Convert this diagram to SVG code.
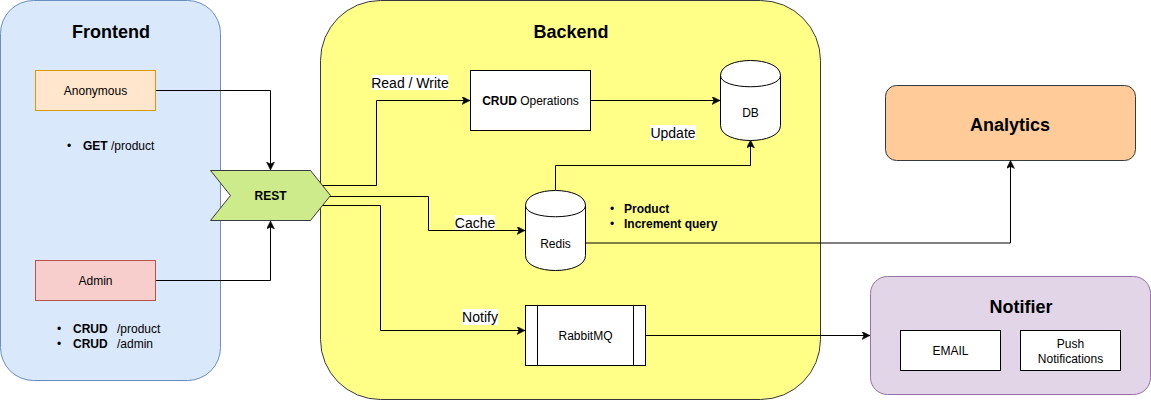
<svg xmlns="http://www.w3.org/2000/svg" width="1151" height="401" viewBox="0 0 1151 401">
<style>
text{font-family:"Liberation Sans",Arial,Helvetica,sans-serif;fill:#000}
.n{font-size:12px;text-anchor:middle}
.t{font-size:18px;font-weight:bold;text-anchor:middle}
.b{font-weight:bold}
.l{font-size:14px;text-anchor:middle}
.s{font-size:12px}
.e{fill:none;stroke:#000;stroke-width:1;marker-end:url(#arr)}
.box{fill:#fff;stroke:#000;stroke-width:1}
.lb{fill:#fff}
</style>
<defs>
<marker id="arr" markerUnits="userSpaceOnUse" markerWidth="10" markerHeight="10" refX="8" refY="4" orient="auto">
<path d="M0,0 L8,4 L0,8 L2,4 Z" fill="#000" stroke="#000" stroke-width="0.5"/>
</marker>
</defs>
<rect width="1151" height="401" fill="#fff"/>

<g id="frontend">
<rect x="0.5" y="0.5" width="220" height="380" rx="33" ry="33" fill="#dae8fc" stroke="#6c8ebf"/>
<text class="t" x="111" y="38">Frontend</text>
<text class="s" x="67" y="150">•</text>
<text class="s" x="83" y="150"><tspan class="b">GET</tspan> /product</text>
<text class="s" x="57" y="333">•</text>
<text class="s" x="73" y="333"><tspan class="b">CRUD</tspan><tspan x="117">/product</tspan></text>
<text class="s" x="57" y="348">•</text>
<text class="s" x="73" y="348"><tspan class="b">CRUD</tspan><tspan x="117">/admin</tspan></text>
</g>

<g id="backend">
<rect x="320.5" y="0.5" width="500" height="399" rx="60" ry="60" fill="#ffff88" stroke="#36393d"/>
<text class="t" x="571" y="38">Backend</text>
</g>

<g id="analytics">
<rect x="885.5" y="85.5" width="250" height="75" rx="11" ry="11" fill="#ffcc99" stroke="#36393d"/>
<text class="t" x="1010" y="131">Analytics</text>
</g>

<g id="notifier">
<rect x="870.5" y="276.5" width="280" height="118" rx="17" ry="17" fill="#e1d5e7" stroke="#9673a6"/>
<text class="t" x="1021" y="313">Notifier</text>
</g>

<g id="connectors">
<path class="e" d="M155.5,90.5 H270.5 V170"/>
<path class="e" d="M155.5,280.5 H270.5 V221"/>
<path class="e" d="M318,185.5 H376.5 V100.5 H470"/>
<path class="e" d="M325,196.5 H428.5 V230.5 H525"/>
<path class="e" d="M318,205.5 H380.5 V330.5 H525"/>
<path class="e" d="M590.5,100.5 H720"/>
<path class="e" d="M555.5,190 V165.5 H750.5 V140"/>
<path class="e" d="M585.5,243 H1010.5 V160.5"/>
<path class="e" d="M645.5,335.5 H870"/>
<rect class="lb" x="372" y="75" width="76" height="15"/>
<text class="l" x="410" y="87.5">Read / Write</text>
<rect class="lb" x="455" y="215" width="40" height="15"/>
<text class="l" x="475" y="227.5">Cache</text>
<rect class="lb" x="650" y="125" width="46" height="15"/>
<text class="l" x="673" y="137.5">Update</text>
<rect class="lb" x="462" y="309" width="36" height="16"/>
<text class="l" x="480" y="322">Notify</text>
</g>

<g id="anonymous">
<rect x="35.5" y="70.5" width="120" height="40" fill="#ffe6cc" stroke="#d79b00"/>
<text class="n" x="95.5" y="95">Anonymous</text>
</g>

<g id="admin">
<rect x="35.5" y="260.5" width="120" height="40" fill="#f8cecc" stroke="#b85450"/>
<text class="n" x="95.5" y="285">Admin</text>
</g>

<g id="rest">
<path d="M210.5,170.5 H310.5 L330.5,195.5 L310.5,220.5 H210.5 L230.5,195.5 Z" fill="#cdeb8b" stroke="#36393d"/>
<text class="n b" x="270.5" y="200">REST</text>
</g>

<g id="crud">
<rect class="box" x="470.5" y="70.5" width="120" height="60"/>
<text class="n" x="530.5" y="105"><tspan class="b">CRUD</tspan> Operations</text>
</g>

<g id="db">
<path class="box" d="M720.5,75.5 C720.5,55.5 780.5,55.5 780.5,75.5 L780.5,125.5 C780.5,145.5 720.5,145.5 720.5,125.5 Z"/>
<path fill="none" stroke="#000" d="M720.5,75.5 C720.5,90.5 780.5,90.5 780.5,75.5"/>
<text class="n" x="750.5" y="117">DB</text>
</g>

<g id="redis">
<path class="box" d="M525.5,205.5 C525.5,185.5 585.5,185.5 585.5,205.5 L585.5,255.5 C585.5,275.5 525.5,275.5 525.5,255.5 Z"/>
<path fill="none" stroke="#000" d="M525.5,205.5 C525.5,220.5 585.5,220.5 585.5,205.5"/>
<text class="n" x="555.5" y="247.5">Redis</text>
</g>

<g id="redis-notes">
<text class="s" x="610" y="213">•</text>
<text class="s b" x="624" y="213">Product</text>
<text class="s" x="610" y="228">•</text>
<text class="s b" x="624" y="228">Increment query</text>
</g>

<g id="rabbitmq">
<rect class="box" x="525.5" y="305.5" width="120" height="60"/>
<path fill="none" stroke="#000" d="M537.5,305.5 V365.5 M633.5,305.5 V365.5"/>
<text class="n" x="585.5" y="339.5">RabbitMQ</text>
</g>

<g id="email">
<rect class="box" x="900.5" y="330.5" width="100" height="40"/>
<text class="n" x="950.5" y="355">EMAIL</text>
</g>

<g id="push">
<rect class="box" x="1020.5" y="330.5" width="100" height="40"/>
<text class="n" x="1070.5" y="348">Push</text>
<text class="n" x="1070.5" y="362.5">Notifications</text>
</g>
</svg>
